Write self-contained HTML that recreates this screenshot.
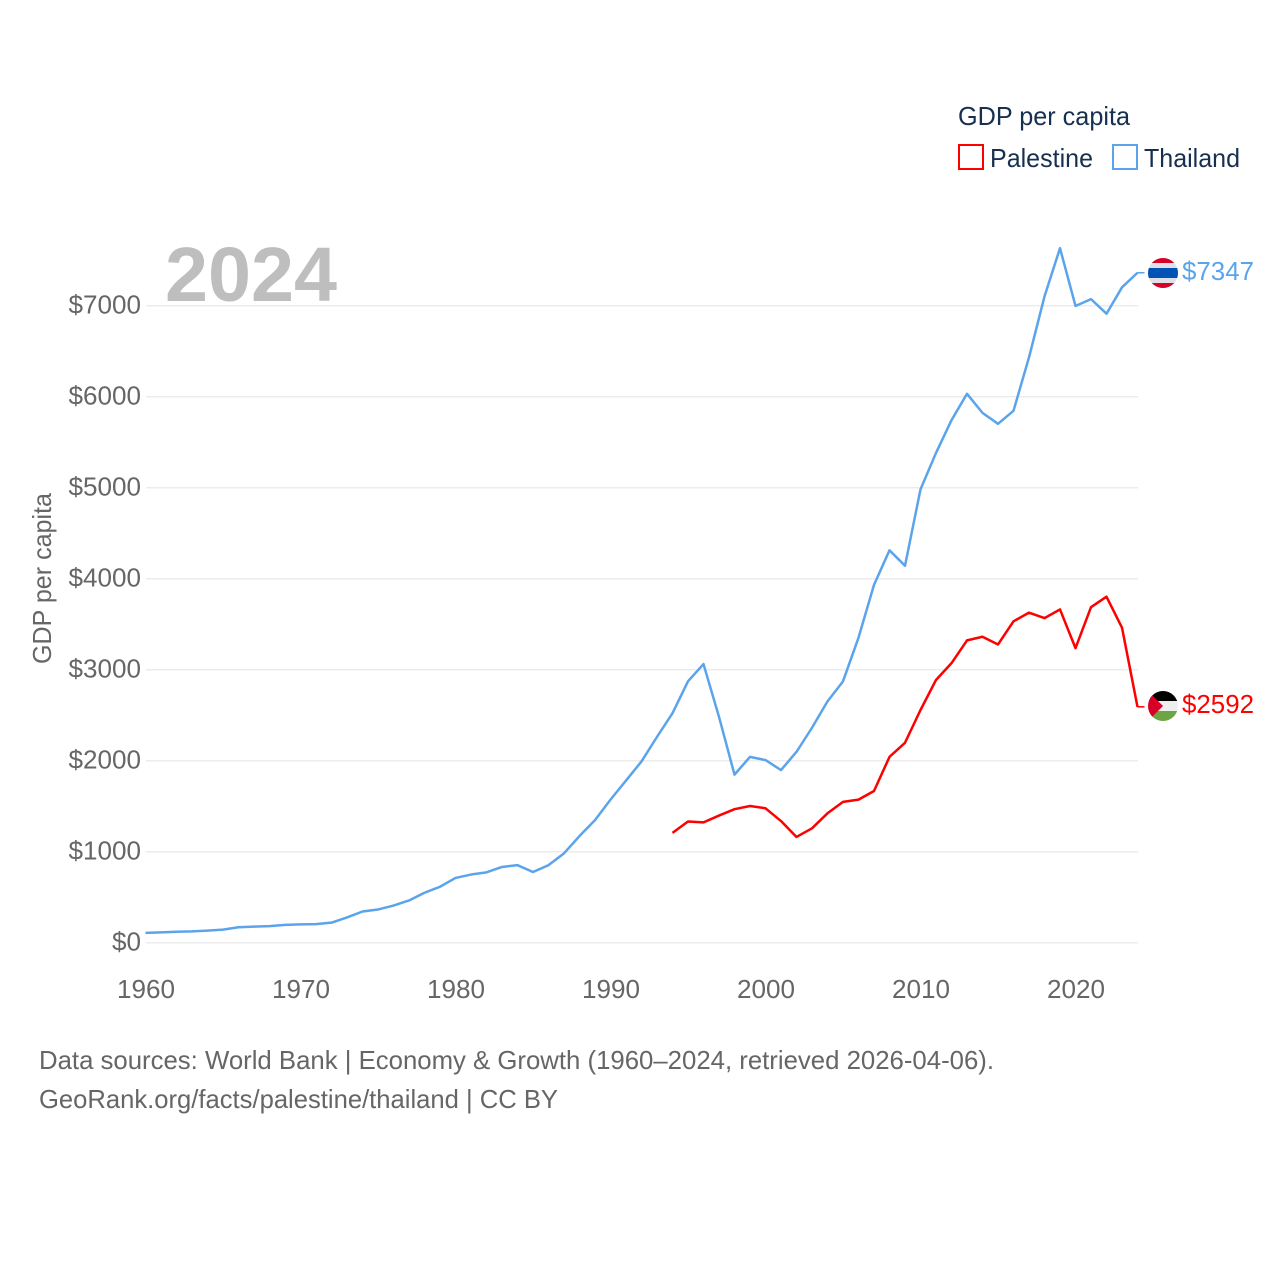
<!DOCTYPE html>
<html lang="en">
<head>
<meta charset="utf-8">
<title>GDP per capita: Palestine and Thailand</title>
<style>
html,body{margin:0;padding:0;background:#fff;}
svg{display:block;font-family:"Liberation Sans",sans-serif;}
</style>
</head>
<body>
<svg id="chart" width="1280" height="1280" viewBox="0 0 1280 1280" xmlns="http://www.w3.org/2000/svg">
  <defs>
    <clipPath id="flag-clip-th"><circle cx="1163" cy="273" r="15"/></clipPath>
    <clipPath id="flag-clip-ps"><circle cx="1163" cy="706" r="15"/></clipPath>
  </defs>
  <rect x="0" y="0" width="1280" height="1280" fill="#fff"/>
  <g id="grid"></g>
  <g id="yticks"></g>
  <g id="xticks"></g>
  <text x="165" y="301" font-size="77" font-weight="700" fill="#bebebe" textLength="172" lengthAdjust="spacingAndGlyphs">2024</text>
  <text transform="translate(51,664) rotate(-90)" font-size="26" fill="#666" textLength="171" lengthAdjust="spacingAndGlyphs">GDP per capita</text>
  <g id="series"></g>

  <g>
    <text x="958" y="125" font-size="26" fill="#17304f" textLength="172" lengthAdjust="spacingAndGlyphs">GDP per capita</text>
    <rect x="959" y="145" width="24" height="24" fill="#fff" stroke="#ff0000" stroke-width="2"/>
    <text x="990" y="167" font-size="26" fill="#17304f" textLength="103" lengthAdjust="spacingAndGlyphs">Palestine</text>
    <rect x="1113" y="145" width="24" height="24" fill="#fff" stroke="#5ba4ec" stroke-width="2"/>
    <text x="1144" y="167" font-size="26" fill="#17304f" textLength="96" lengthAdjust="spacingAndGlyphs">Thailand</text>
  </g>

  <g clip-path="url(#flag-clip-th)">
    <rect x="1148" y="258" width="30" height="30" fill="#e0e0e8"/>
    <rect x="1148" y="258" width="30" height="5" fill="#d80027"/>
    <rect x="1148" y="283" width="30" height="5" fill="#d80027"/>
    <rect x="1148" y="268" width="30" height="10" fill="#0052b4"/>
  </g>
  <g clip-path="url(#flag-clip-ps)">
    <rect x="1148" y="691" width="30" height="10" fill="#000"/>
    <rect x="1148" y="701" width="30" height="10" fill="#eeeeee"/>
    <rect x="1148" y="711" width="30" height="10" fill="#6da544"/>
    <polygon points="1148,691 1163,706 1148,721" fill="#d80027"/>
  </g>
  <text x="1182" y="280" font-size="26" fill="#5ba4ec" textLength="72" lengthAdjust="spacingAndGlyphs">$7347</text>
  <text x="1182" y="713" font-size="26" fill="#ff0000" textLength="72" lengthAdjust="spacingAndGlyphs">$2592</text>

  <text x="39" y="1069" font-size="26" fill="#666" textLength="955" lengthAdjust="spacingAndGlyphs">Data sources: World Bank | Economy &amp; Growth (1960–2024, retrieved 2026-04-06).</text>
  <text x="39" y="1108" font-size="26" fill="#666" textLength="519" lengthAdjust="spacingAndGlyphs">GeoRank.org/facts/palestine/thailand | CC BY</text>
</svg>
<script>
const yTickValues = [0, 1000, 2000, 3000, 4000, 5000, 6000, 7000];
const xTickYears = [1960, 1970, 1980, 1990, 2000, 2010, 2020];
const thailandStartYear = 1960;
const thailandValues = [108,113,121,125,133,144,170,176,182,196,201,204,220,278,343,365,408,464,549,615,712,749,773,832,852,777,852,982,1172,1347,1572,1782,1992,2262,2522,2872,3062,2482,1847,2042,2007,1897,2097,2362,2652,2872,3352,3932,4312,4142,4982,5382,5742,6032,5822,5702,5845,6432,7102,7632,6997,7072,6912,7202,7362];
const palestineStartYear = 1994;
const palestineValues = [1207,1332,1322,1397,1467,1502,1477,1337,1162,1257,1422,1547,1572,1667,2042,2197,2557,2887,3072,3322,3362,3277,3532,3627,3567,3662,3237,3687,3802,3462,2592];

const NS = 'http://www.w3.org/2000/svg';
const xScale = function (year) { return 145.5 + (year - 1960) * 15.5; };
const yScale = function (value) { return 942.7 - value * 0.091; };
const fmt = function (value) { return '$' + value; };

const gridGroup = document.getElementById('grid');
const yTickGroup = document.getElementById('yticks');
const xTickGroup = document.getElementById('xticks');
const seriesGroup = document.getElementById('series');

yTickValues.forEach(function (value) {
  const line = document.createElementNS(NS, 'line');
  
  
  line.setAttribute('x1', 146);
  line.setAttribute('x2', 1138);
  line.setAttribute('y1', yScale(value));
  line.setAttribute('y2', yScale(value));
  line.setAttribute('stroke', '#ececec');
  line.setAttribute('stroke-width', 1.5);
  gridGroup.appendChild(line);

  const label = document.createElementNS(NS, 'text');
  
  
  label.setAttribute('x', 141);
  label.setAttribute('y', yScale(value) + 8);
  label.setAttribute('text-anchor', 'end');
  label.setAttribute('font-size', 26);
  label.setAttribute('fill', '#666');
  label.setAttribute('textLength', String(value).length * 14.5 + 14.5);
  label.setAttribute('lengthAdjust', 'spacingAndGlyphs');
  label.textContent = fmt(value);
  yTickGroup.appendChild(label);
});

xTickYears.forEach(function (year) {
  const label = document.createElementNS(NS, 'text');
  
  
  label.setAttribute('x', xScale(year) + 0.5);
  label.setAttribute('y', 998);
  label.setAttribute('text-anchor', 'middle');
  label.setAttribute('font-size', 26);
  label.setAttribute('fill', '#666');
  label.setAttribute('textLength', 58);
  label.setAttribute('lengthAdjust', 'spacingAndGlyphs');
  label.textContent = year;
  xTickGroup.appendChild(label);
});

function buildPoints(startYear, values) {
  return values.map(function (value, i) {
    return xScale(startYear + i).toFixed(2) + ',' + yScale(value).toFixed(2);
  });
}

function drawSeries(startYear, values, color, lineName, connectorName) {
  const pts = buildPoints(startYear, values);
  const line = document.createElementNS(NS, 'polyline');
  
  
  line.setAttribute('points', pts.join(' '));
  line.setAttribute('fill', 'none');
  line.setAttribute('stroke', color);
  line.setAttribute('stroke-width', 2.5);
  line.setAttribute('stroke-linejoin', 'round');
  seriesGroup.appendChild(line);

  const lastY = yScale(values[values.length - 1]);
  const connector = document.createElementNS(NS, 'line');
  
  
  connector.setAttribute('x1', xScale(startYear + values.length - 1));
  connector.setAttribute('x2', xScale(startYear + values.length - 1) + 7);
  connector.setAttribute('y1', lastY);
  connector.setAttribute('y2', lastY);
  connector.setAttribute('stroke', color);
  connector.setAttribute('stroke-width', 1.5);
  seriesGroup.appendChild(connector);
}

drawSeries(thailandStartYear, thailandValues, '#5ba4ec', 'thailand-line', 'thailand-connector');
drawSeries(palestineStartYear, palestineValues, '#ff0000', 'palestine-line', 'palestine-connector');
</script>
</body>
</html>
